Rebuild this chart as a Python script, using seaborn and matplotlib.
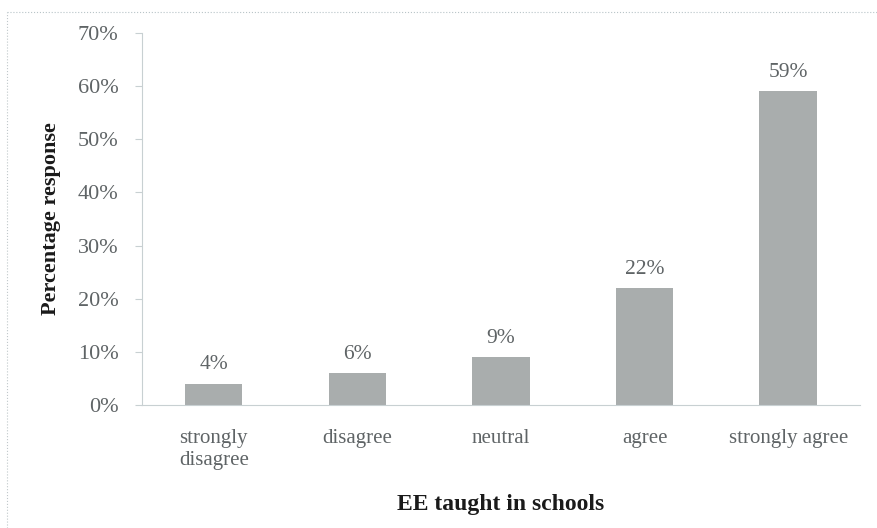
import matplotlib
matplotlib.use('Agg')
import matplotlib.pyplot as plt
import seaborn as sns
import pandas as pd
from matplotlib.lines import Line2D
from matplotlib.ticker import FuncFormatter

categories = ['strongly\ndisagree', 'disagree', 'neutral', 'agree', 'strongly agree']
percentages = [4, 6, 9, 22, 59]
bar_labels = ['4%', '6%', '9%', '22%', '59%']
y_ticks = [0, 10, 20, 30, 40, 50, 60, 70]

df = pd.DataFrame({'response': categories, 'pct': percentages})

sns.set_style('white')
plt.rcParams['font.family'] = ['Liberation Serif', 'DejaVu Serif']

text_gray = '#5f6466'
bar_gray = '#a9adad'
axis_gray = '#c8d0d2'

fig = plt.figure(figsize=(8.78, 5.28), dpi=100)
ax = fig.add_axes([0.1617, 0.233, 0.8178, 0.7045])

sns.barplot(data=df, x='response', y='pct', color=bar_gray, width=0.4,
            saturation=1, ax=ax)
for p in ax.patches:
    p.set_edgecolor('none')

ax.set_xlim(-0.5, 4.5)
ax.set_ylim(0, 70)
ax.set_yticks(y_ticks)
ax.yaxis.set_major_formatter(FuncFormatter(lambda v, _: f'{int(v)}%'))

for i, (v, lab) in enumerate(zip(percentages, bar_labels)):
    ax.text(i, v + 1.8, lab, ha='center', va='bottom', fontsize=15.5, color=text_gray)

for s in ['top', 'right']:
    ax.spines[s].set_visible(False)
ax.spines['left'].set_color(axis_gray)
ax.spines['bottom'].set_color(axis_gray)
ax.spines['left'].set_linewidth(0.8)
ax.spines['bottom'].set_linewidth(0.8)

ax.tick_params(axis='y', left=True, length=5, color=axis_gray, labelsize=16,
               labelcolor=text_gray, pad=12)
ax.tick_params(axis='x', bottom=False, labelsize=15, labelcolor=text_gray, pad=14)
for t in ax.get_xticklabels():
    t.set_linespacing(1.2)

ax.set_xlabel('EE taught in schools', fontsize=17, fontweight='bold',
              color='#1a1a1a', labelpad=17)
ax.set_ylabel('Percentage response', fontsize=16, fontweight='bold',
              color='#1a1a1a', labelpad=12)

# faint dotted frame of the original figure
fig.add_artist(Line2D([7 / 878, 7 / 878], [0, 1 - 12 / 528], transform=fig.transFigure,
                      color='#c0c8ca', lw=0.8, ls=':'))
fig.add_artist(Line2D([7 / 878, 1], [1 - 12 / 528, 1 - 12 / 528], transform=fig.transFigure,
                      color='#b8c4c8', lw=0.8, ls=':'))

fig.savefig('out.png', dpi=100)
